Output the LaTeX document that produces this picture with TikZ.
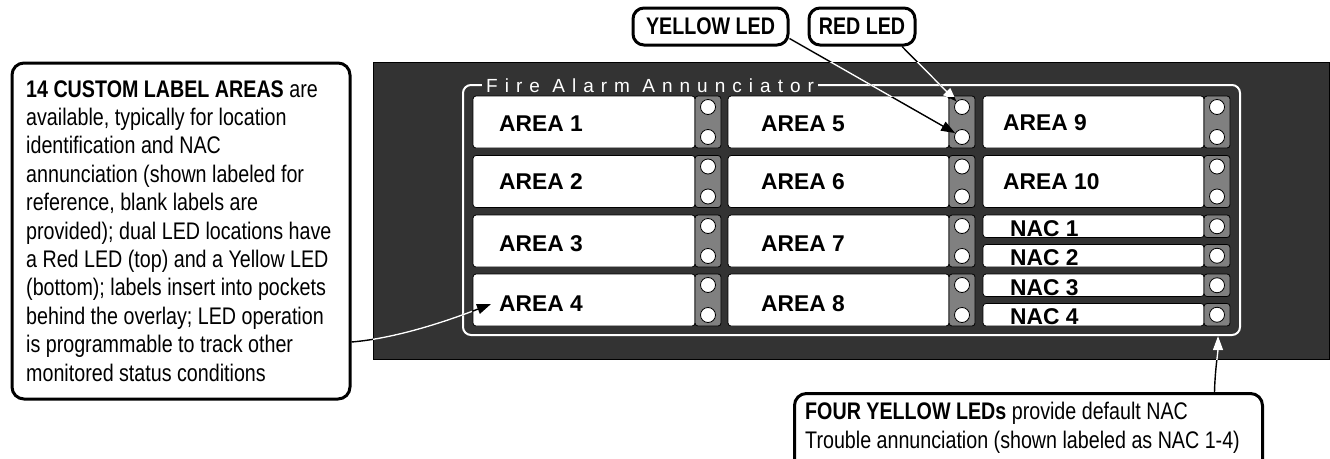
\documentclass[tikz,border=0pt]{standalone}
\usepackage{fontspec}
\setmainfont{Liberation Sans}
\newfontfamily\narrowfont{Liberation Sans}[FakeStretch=0.82]
\newfontfamily\titlefont{Liberation Sans}[LetterSpace=37]
\usetikzlibrary{arrows.meta,calc}
\definecolor{panelgray}{HTML}{333333}
\definecolor{ledgray}{HTML}{808080}
\begin{document}
\begin{tikzpicture}[x=1pt,y=-1pt,
  labelbox/.style={draw=black, line width=0.8pt, fill=white, rounded corners=3pt},
  ledstrip/.style={draw=black, line width=0.8pt, fill=ledgray, rounded corners=3pt},
  led/.style={circle, draw=black, line width=0.8pt, fill=white, minimum size=15pt, inner sep=0pt},
  areatext/.style={font=\fontsize{22.8}{26}\selectfont\bfseries, anchor=base west, inner sep=0pt},
  callout/.style={draw=black, line width=3pt, fill=white, rounded corners=12pt, inner sep=0pt},
  tagbox/.style={draw=black, line width=3pt, fill=white, rounded corners=11pt, inner sep=0pt,
    font=\narrowfont\bfseries\fontsize{24}{28}\selectfont},
  bodytext/.style={anchor=base west, align=left, inner sep=0pt,
    font=\narrowfont\fontsize{24}{28.4}\selectfont},
  conn/.style={line width=1.4pt, -{Triangle[length=14pt,width=10pt]}},
]
\useasboundingbox (0,0) rectangle (1330,458);
\clip (0,0) rectangle (1330,458);

% panel
\path[fill=panelgray, draw=black, line width=0.6pt] (373,62) rectangle (1329,359);
\draw[white, line width=2pt, rounded corners=8pt] (463,85) rectangle (1240,335);
\node[fill=panelgray, inner xsep=4pt, inner ysep=2pt, anchor=base west, text=white,
  font=\titlefont\fontsize{19}{22}\selectfont] (title) at (482,92) {Fire Alarm Annunciator};

% columns 1 and 2
\foreach \c/\xl/\xs/\xr/\xt in {1/473/695/721/499, 2/728/949/975/761} {
  \foreach \r/\yt/\yb in {1/96/131, 2/155.5/189, 3/215/251, 4/274/311} {
    \pgfmathtruncatemacro\n{(\c-1)*4+\r}
    \path[labelbox] (\xl,\yt) rectangle (\xs,\yt+52);
    \path[ledstrip] (\xs,\yt) rectangle (\xr,\yt+52);
    \node[led] (led-\c-\r-a) at ({(\xs+\xr)/2},\yt+11) {};
    \node[led] (led-\c-\r-b) at ({(\xs+\xr)/2},\yt+41) {};
    \node[areatext] (txt-\c-\r) at (\xt,\yb) {AREA \n};
  }
}
% column 3
\foreach \r/\yt/\yb/\n in {1/96/130/9, 2/155.5/189/10} {
  \path[labelbox] (983,\yt) rectangle (1204,\yt+52);
  \path[ledstrip] (1204,\yt) rectangle (1230,\yt+52);
  \node[led] (led-3-\r-a) at (1217,\yt+11) {};
  \node[led] (led-3-\r-b) at (1217,\yt+41) {};
  \node[areatext] (txt-3-\r) at (1003,\yb) {AREA \n};
}
\foreach \k/\yt in {1/215, 2/244.5, 3/274, 4/303.5} {
  \path[labelbox] (983,\yt) rectangle (1204,\yt+22.5);
  \path[ledstrip] (1204,\yt) rectangle (1230,\yt+22.5);
  \node[led] (nacled-\k) at (1217,\yt+11.25) {};
  \node[areatext] (nac-\k) at (1010,\yt+21) {NAC \k};
}

% callouts
\node[tagbox, minimum width=155pt, minimum height=37pt] (yl) at (710.5,26.5) {YELLOW LED};
\node[tagbox, minimum width=106pt, minimum height=37pt] (rl) at (862,26.5) {RED LED};

\node[callout, minimum width=338pt, minimum height=336pt] (info) at (181,231) {};
\node[bodytext] (infotext) at (26,381) {\textbf{14 CUSTOM LABEL AREAS} are\\
available, typically for location\\
identification and NAC\\
annunciation (shown labeled for\\
reference, blank labels are\\
provided); dual LED locations have\\
a Red LED (top) and a Yellow LED\\
(bottom); labels insert into pockets\\
behind the overlay; LED operation\\
is programmable to track other\\
monitored status conditions};

\node[callout, minimum width=468pt, minimum height=90pt, anchor=north west] (nacbox) at (793,392) {};
\node[bodytext] (nactext) at (805,448) {\textbf{FOUR YELLOW LEDs} provide default NAC\\
Trouble annunciation (shown labeled as NAC 1-4)};

% connectors
\coordinate (a4tip) at (491,304);
\coordinate (nactip) at (1218,336);
\draw[conn] ([yshift=-111pt]info.east) .. controls (400,338) and (455,318) .. (a4tip);
\draw[conn] ([yshift=-12pt]yl.east) -- (led-2-1-b);
\draw[conn] ([xshift=40pt]rl.south) -- (led-2-1-a);
\draw[conn] ([xshift=186pt]nacbox.north) .. controls (1215,370) and (1218,352) .. (nactip);

\begin{scope}
  \clip (373,62) rectangle (472,359);
  \draw[conn, white] ([yshift=-111pt]info.east) .. controls (400,338) and (455,318) .. (a4tip);
\end{scope}
\begin{scope}
  \clip (373,62) rectangle (1329,96);
  \draw[conn, white] ([yshift=-12pt]yl.east) -- (led-2-1-b);
  \draw[conn, white] ([xshift=40pt]rl.south) -- (led-2-1-a);
\end{scope}
\begin{scope}
  \clip (373,62) rectangle (1329,359);
  \draw[conn, white] ([xshift=186pt]nacbox.north) .. controls (1215,370) and (1218,352) .. (nactip);
\end{scope}
\end{tikzpicture}
\end{document}
